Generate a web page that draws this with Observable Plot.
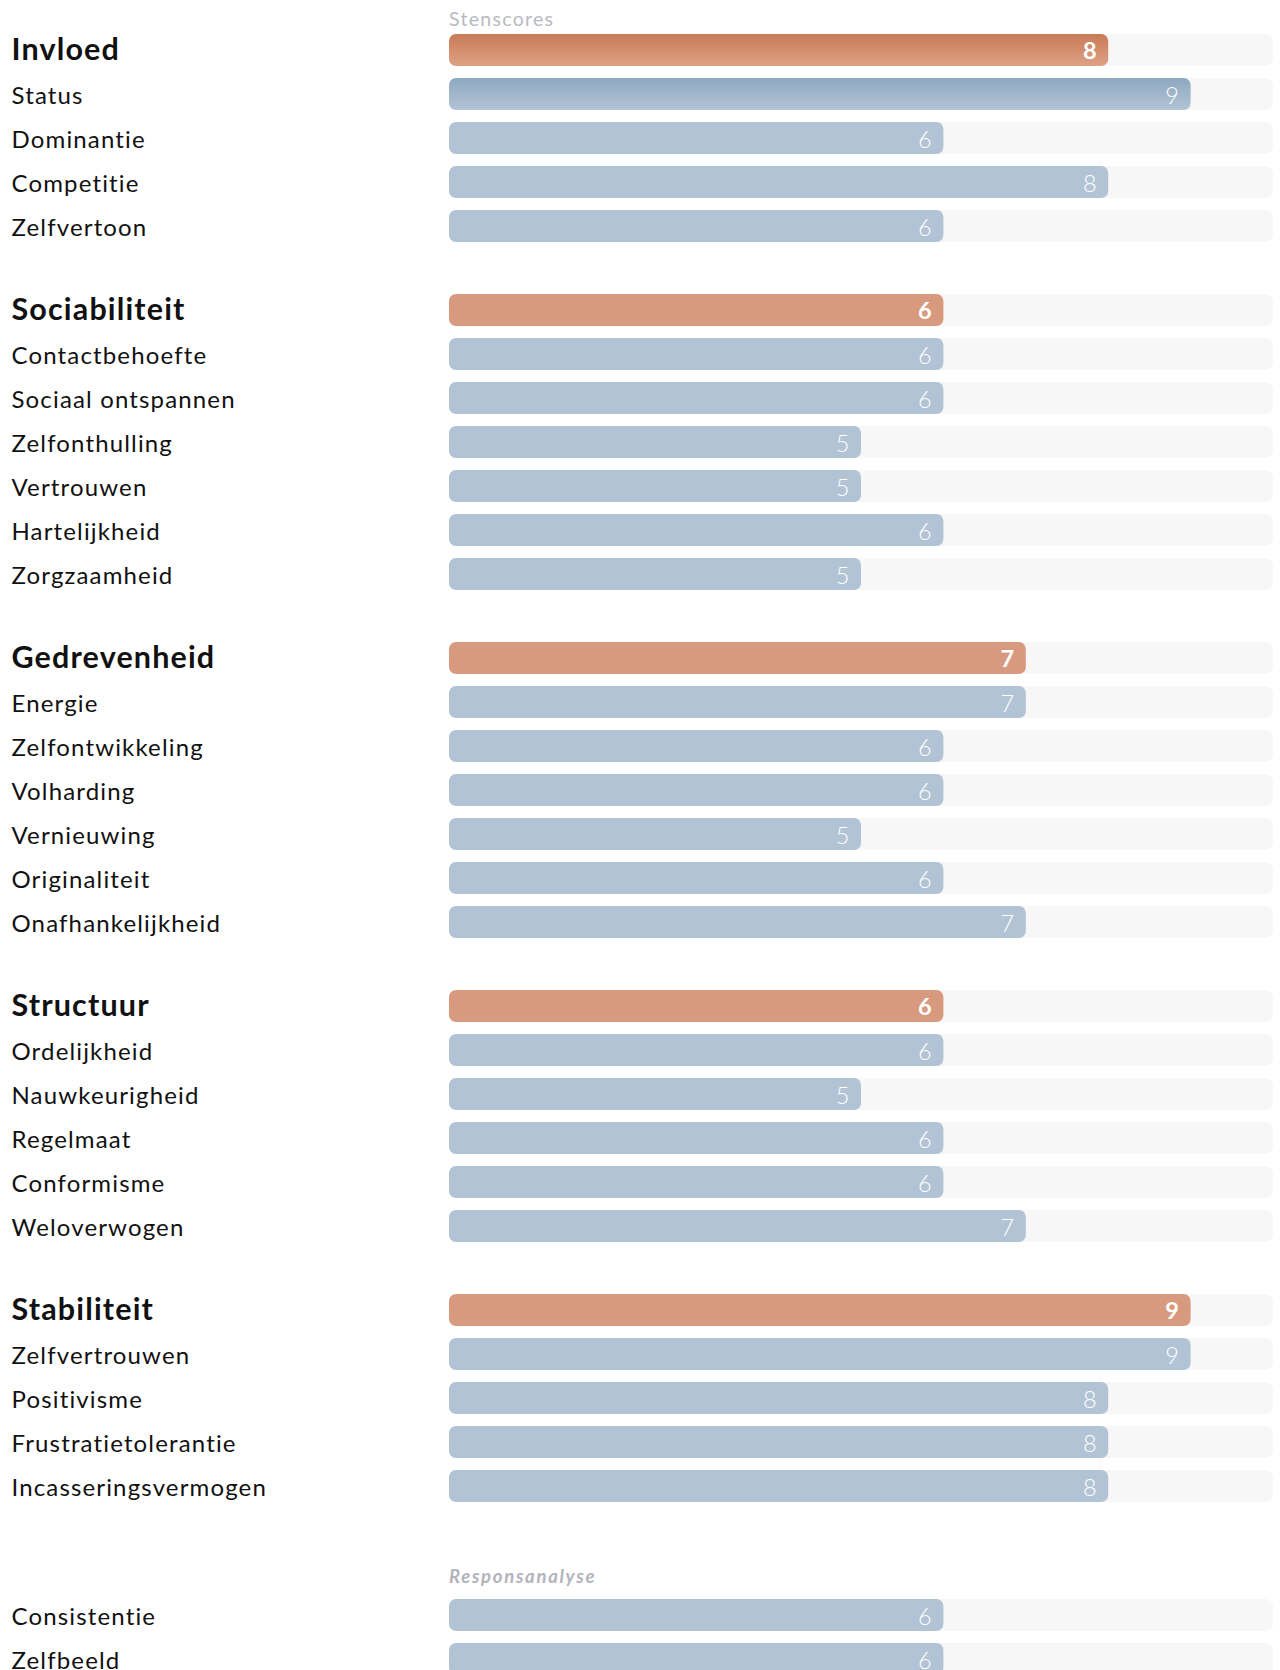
<!DOCTYPE html>
<html>
<head>
<meta charset="utf-8">
<script src="https://cdn.jsdelivr.net/npm/d3@7"></script>
<script src="https://cdn.jsdelivr.net/npm/@observablehq/plot@0.6"></script>
<style>
  html, body { margin: 0; padding: 0; background: #fff; overflow: hidden; }
  body { width: 1280px; font-family: Lato, "Noto Sans", sans-serif; }
  .cap {
    box-sizing: border-box; position: relative;
    padding-left: 449px; color: #b9b9c2; white-space: nowrap;
  }
  #stens { height: 28px; padding-top: 9.3px; font-size: 19.5px; line-height: 19.5px; letter-spacing: 1.3px; }
  #resp { height: 85px; padding-top: 59px; font-size: 18.5px; line-height: 18.5px; font-style: italic; font-weight: 700; letter-spacing: 1.7px; color: #b3b3bb; }
  .grp svg { display: block; }
  .gap { height: 40px; }
</style>
</head>
<body>
<div id="stens" class="cap">Stenscores</div>
<div id="chart"></div>
<script>
// ---- data ----
const scaleMax = 10;
const groups = ["Invloed", "Sociabiliteit", "Gedrevenheid", "Structuur", "Stabiliteit"];
const groupScores = [8, 6, 7, 6, 9];

const invloedItems = ["Status", "Dominantie", "Competitie", "Zelfvertoon"];
const invloedScores = [9, 6, 8, 6];
const sociabiliteitItems = ["Contactbehoefte", "Sociaal ontspannen", "Zelfonthulling", "Vertrouwen", "Hartelijkheid", "Zorgzaamheid"];
const sociabiliteitScores = [6, 6, 5, 5, 6, 5];
const gedrevenheidItems = ["Energie", "Zelfontwikkeling", "Volharding", "Vernieuwing", "Originaliteit", "Onafhankelijkheid"];
const gedrevenheidScores = [7, 6, 6, 5, 6, 7];
const structuurItems = ["Ordelijkheid", "Nauwkeurigheid", "Regelmaat", "Conformisme", "Weloverwogen"];
const structuurScores = [6, 5, 6, 6, 7];
const stabiliteitItems = ["Zelfvertrouwen", "Positivisme", "Frustratietolerantie", "Incasseringsvermogen"];
const stabiliteitScores = [9, 8, 8, 8];

const responsTitle = "Responsanalyse";
const responsItems = ["Consistentie", "Zelfbeeld"];
const responsScores = [6, 6];

const highlighted = ["Invloed", "Status"]; // rows drawn with gradient (hover state)

const itemLists = [invloedItems, sociabiliteitItems, gedrevenheidItems, structuurItems, stabiliteitItems];
const scoreLists = [invloedScores, sociabiliteitScores, gedrevenheidScores, structuurScores, stabiliteitScores];

// ---- styles ----
const ORANGE = "#d89a7e", BLUE = "#b1c3d5", TRACK = "#f7f7f7";
const ROW = 44, BAR = 32;

function gradientDefs() {
  const defs = d3.create("svg:defs");
  const g1 = defs.append("linearGradient").attr("id", "gradOrange").attr("x1", 0).attr("x2", 0).attr("y1", 0).attr("y2", 1);
  g1.append("stop").attr("offset", "0%").attr("stop-color", "#c97a57");
  g1.append("stop").attr("offset", "100%").attr("stop-color", "#dea285");
  const g2 = defs.append("linearGradient").attr("id", "gradBlue").attr("x1", 0).attr("x2", 0).attr("y1", 0).attr("y2", 1);
  g2.append("stop").attr("offset", "0%").attr("stop-color", "#8ea8c0");
  g2.append("stop").attr("offset", "100%").attr("stop-color", "#b2c4d5");
  return defs.node();
}

function makeGroup(rows, withDefs) {
  const labels = rows.map(d => d.label);
  const hdr = rows.filter(d => d.header);
  const itm = rows.filter(d => !d.header);
  const plainH = rows.filter(d => d.header && !highlighted.includes(d.label));
  const plainI = rows.filter(d => !d.header && !highlighted.includes(d.label));
  const gradH = rows.filter(d => d.header && highlighted.includes(d.label));
  const gradI = rows.filter(d => !d.header && highlighted.includes(d.label));
  const marks = [];
  if (withDefs) marks.push(gradientDefs);
  marks.push(
    Plot.barX(rows, {y: "label", x1: 0, x2: scaleMax, fill: TRACK, rx: 8}),
    Plot.barX(plainH, {y: "label", x1: 0, x2: "value", fill: ORANGE, rx: 7}),
    Plot.barX(plainI, {y: "label", x1: 0, x2: "value", fill: BLUE, rx: 7}),
    Plot.barX(gradH, {y: "label", x1: 0, x2: "value", fill: "url(#gradOrange)", rx: 7}),
    Plot.barX(gradI, {y: "label", x1: 0, x2: "value", fill: "url(#gradBlue)", rx: 7}),
    Plot.text(hdr, {y: "label", x: "value", text: d => String(d.value), textAnchor: "end", dx: -11, dy: 1, fill: "#fff", fontSize: 23.5, fontWeight: 700}),
    Plot.text(itm, {y: "label", x: "value", text: d => String(d.value), textAnchor: "end", dx: -11, dy: 1.5, fill: "#fff", fontSize: 23.5, fontWeight: 300}),
    Plot.text(hdr, {y: "label", text: "label", frameAnchor: "left", textAnchor: "start", dx: -438, fill: "#111", fontSize: 30.5, fontWeight: 700}),
    Plot.text(itm, {y: "label", text: "label", frameAnchor: "left", textAnchor: "start", dx: -438, dy: 1.5, fill: "#111", fontSize: 24, fontWeight: 400})
  );
  const svg = Plot.plot({
    width: 1280,
    height: rows.length * ROW,
    marginLeft: 449, marginRight: 7, marginTop: 0, marginBottom: 0,
    x: {domain: [0, scaleMax], axis: null},
    y: {domain: labels, axis: null, paddingInner: (ROW - BAR) / ROW, paddingOuter: (ROW - BAR) / ROW / 2},
    style: {fontFamily: "Lato, 'Noto Sans', sans-serif", letterSpacing: "1.15px", background: "transparent", overflow: "visible"},
    marks
  });
  const div = document.createElement("div");
  div.className = "grp";
  div.appendChild(svg);
  return div;
}

const chart = document.getElementById("chart");

groups.forEach((g, i) => {
  const rows = [{label: g, value: groupScores[i], header: true}]
    .concat(itemLists[i].map((l, j) => ({label: l, value: scoreLists[i][j], header: false})));
  if (i > 0) { const gp = document.createElement("div"); gp.className = "gap"; chart.appendChild(gp); }
  chart.appendChild(makeGroup(rows, i === 0));
});

const rt = document.createElement("div");
rt.id = "resp"; rt.className = "cap"; rt.textContent = responsTitle;
chart.appendChild(rt);
chart.appendChild(makeGroup(responsItems.map((l, j) => ({label: l, value: responsScores[j], header: false})), false));
</script>
</body>
</html>
